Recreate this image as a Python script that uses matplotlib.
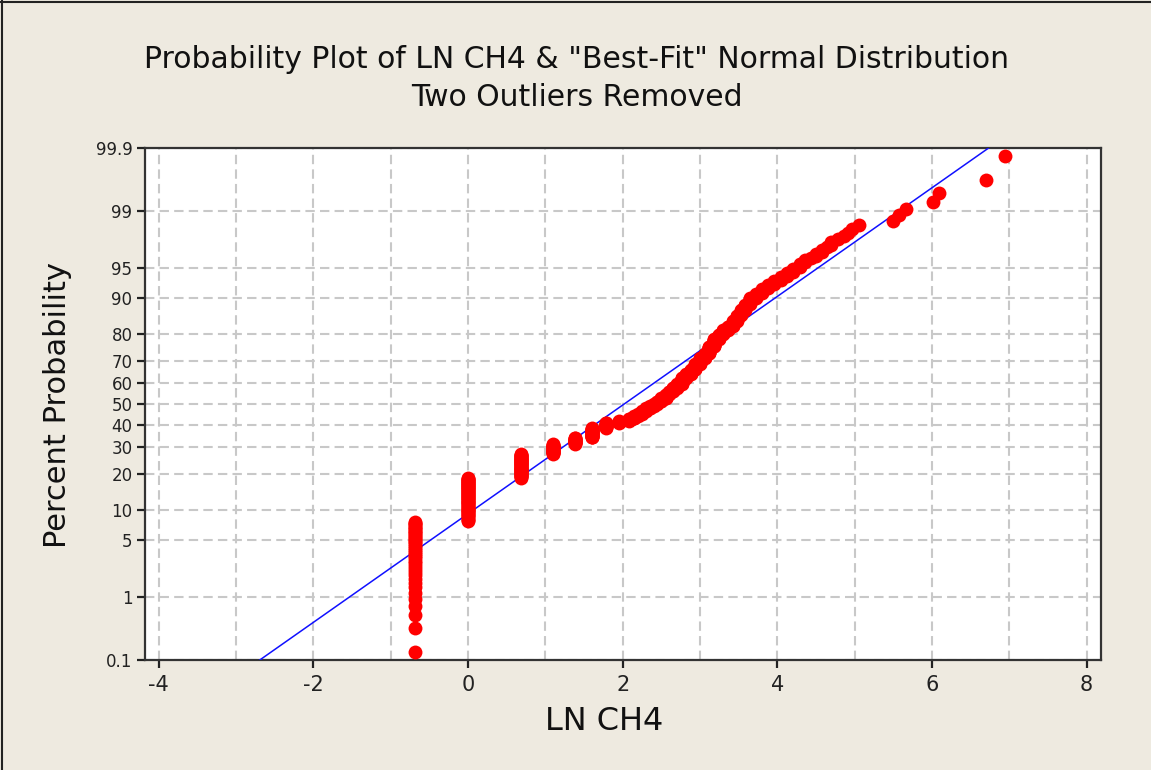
import numpy as np
import matplotlib.pyplot as plt
from matplotlib.lines import Line2D
from statistics import NormalDist

plt.rcParams["axes.unicode_minus"] = False

# LN CH4 values (sorted) and number of samples at each value
ln_ch4 = [-0.69, 0.00, 0.69, 1.10, 1.39, 1.61, 1.79, 1.95, 2.08,
          2.15, 2.20, 2.25, 2.30, 2.35, 2.40, 2.45, 2.50, 2.56, 2.60,
          2.65, 2.70, 2.77, 2.82, 2.88, 2.94, 3.00, 3.06, 3.12, 3.18,
          3.24, 3.30, 3.36, 3.43, 3.48, 3.53, 3.58, 3.65, 3.72, 3.80,
          3.88, 3.96, 4.05, 4.12, 4.20, 4.29, 4.36, 4.43, 4.50, 4.58,
          4.64, 4.70, 4.78, 4.86, 4.92, 4.97, 5.06, 5.50, 5.58, 5.66,
          6.01, 6.09, 6.70, 6.94]
counts = [39, 54, 43, 21, 14, 22, 12, 4, 6,
          6, 5, 7, 7, 5, 5, 6, 8, 9, 7,
          9, 9, 14, 9, 10, 12, 12, 10, 13, 14,
          8, 7, 6, 8, 8, 7, 7, 7, 5, 4,
          4, 3, 3, 3, 3, 3, 2, 1, 2, 2,
          1, 2, 1, 1, 1, 1, 1, 1, 1, 1,
          1, 1, 1, 1]

pct_ticks = [0.1, 1, 5, 10, 20, 30, 40, 50, 60, 70, 80, 90, 95, 99, 99.9]
pct_labels = ["0.1", "1", "5", "10", "20", "30", "40", "50", "60", "70",
              "80", "90", "95", "99", "99.9"]

# "best-fit" normal line
fit_mean = 2.02
fit_sd = 1.525

nd = NormalDist()
x = np.repeat(ln_ch4, counts)
n = len(x)
rank = np.arange(1, n + 1)
p = (rank - 0.3) / (n + 0.4)  # median ranks
z = np.array([nd.inv_cdf(v) for v in p])

zlo, zhi = nd.inv_cdf(0.001), nd.inv_cdf(0.999)

W, H = 1151, 770
bg = "#EEEAE0"
fig = plt.figure(figsize=(W / 100, H / 100), dpi=100, facecolor=bg)
ax = fig.add_axes([145 / W, 1 - 660 / H, (1101 - 145) / W, (660 - 148) / H])
ax.set_facecolor("white")

zz = np.array([zlo, zhi])
ax.plot(fit_mean + fit_sd * zz, zz, color="#1010FF", lw=1.1, zorder=3)
ax.plot(x, z, "o", color="#FF0000", ms=10, mec="none", zorder=4, clip_on=False)

ax.set_xlim(-4.177, 8.186)
ax.set_ylim(zlo, zhi)
ax.set_xticks(range(-4, 9, 2))
ax.set_xticks(range(-3, 9, 2), minor=True)
ax.set_yticks([nd.inv_cdf(t / 100) for t in pct_ticks])
ax.set_yticklabels(pct_labels)
ax.grid(True, which="both", color="#C8C8C8", lw=1.5, ls=(0, (4.5, 2.5)))
ax.set_axisbelow(True)
ax.tick_params(which="major", direction="out", length=6, width=1.6, color="#222222")
ax.tick_params(which="minor", length=0)
ax.tick_params(axis="x", labelsize=15, pad=5, labelcolor="#222222")
ax.tick_params(axis="y", labelsize=12, pad=3, labelcolor="#222222")
for s in ax.spines.values():
    s.set_color("#333333")
    s.set_linewidth(1.6)

fig.text(577 / W, 1 - 60 / H, 'Probability Plot of LN CH4 & "Best-Fit" Normal Distribution',
         ha="center", va="center", fontsize=21.5, color="#111111")
fig.text(577 / W, 1 - 98 / H, "Two Outliers Removed",
         ha="center", va="center", fontsize=21.5, color="#111111")
fig.text(604 / W, 1 - 722 / H, "LN CH4", ha="center", va="center", fontsize=23, color="#111111")
fig.text(58 / W, 1 - 405 / H, "Percent Probability", rotation=90,
         ha="center", va="center", fontsize=22, color="#111111")

# window frame on the left and top edges
fig.add_artist(Line2D([0, 1], [1 - 2 / H] * 2, color="#222222", lw=1.5))
fig.add_artist(Line2D([2 / W] * 2, [0, 1], color="#222222", lw=1.5))

fig.savefig("out.png", dpi=100, facecolor=bg)
